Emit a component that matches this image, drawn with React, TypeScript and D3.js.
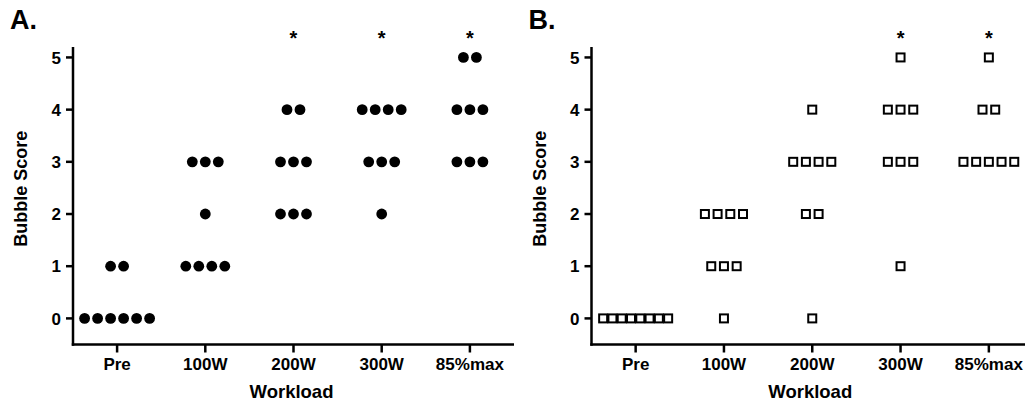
import React from 'react';
import * as d3 from 'd3';

// categories and per-subject bubble scores
const categories = ['Pre', '100W', '200W', '300W', '85%max'];

const scoresA = [
  [0, 0, 0, 0, 0, 0, 1, 1],
  [1, 1, 1, 1, 2, 3, 3, 3],
  [2, 2, 2, 3, 3, 3, 4, 4],
  [2, 3, 3, 3, 4, 4, 4, 4],
  [3, 3, 3, 4, 4, 4, 5, 5],
];

const scoresB = [
  [0, 0, 0, 0, 0, 0, 0, 0],
  [0, 1, 1, 1, 2, 2, 2, 2],
  [0, 2, 2, 3, 3, 3, 3, 4],
  [1, 3, 3, 3, 4, 4, 4, 5],
  [3, 3, 3, 3, 3, 4, 4, 5],
];

const sigA = [false, false, true, true, true];
const sigB = [false, false, false, true, true];

const yTicks = [0, 1, 2, 3, 4, 5];

const FONT = '"Liberation Sans", Arial, Helvetica, sans-serif';

type PanelProps = {
  label: string;
  left: number;
  right: number;
  scores: number[][];
  sig: boolean[];
  marker: 'circle' | 'square';
};

// spread points with equal value side by side, like a column scatter
const layoutRow = (vals: number[], spacing: number, maxSpan: number) => {
  const counts = d3.rollup(vals, v => v.length, d => d);
  const seen = new Map<number, number>();
  return vals.map(v => {
    const n = counts.get(v) || 1;
    const i = seen.get(v) || 0;
    seen.set(v, i + 1);
    const step = n > 1 ? Math.min(spacing, maxSpan / (n - 1)) : 0;
    return { v, dx: (i - (n - 1) / 2) * step };
  });
};

const Panel = ({ label, left, right, scores, sig, marker }: PanelProps) => {
  const y = d3.scaleLinear().domain([-0.5, 5.2]).range([344.5, 47]);
  const x = d3.scalePoint<string>().domain(categories).range([left, right]).padding(0.5);
  const axisRight = Math.min(right, 1030);
  const bottom = y(-0.5);

  return (
    <g>
      <text x={left - 63} y={29} fontSize={27} fontWeight="bold" fontFamily={FONT}>{label}</text>

      {/* y axis */}
      <line x1={left} x2={left} y1={y(5.2)} y2={bottom + 1.25} stroke="#000" strokeWidth={2.5} />
      {yTicks.map(t => (
        <g key={t}>
          <line x1={left - 7} x2={left} y1={y(t)} y2={y(t)} stroke="#000" strokeWidth={2.5} />
          <text x={left - 12} y={y(t)} dy="0.36em" textAnchor="end" fontSize={17} fontWeight="bold" fontFamily={FONT}>{t}</text>
        </g>
      ))}
      <text transform={`translate(${left - 46},${(y(5.2) + bottom) / 2 - 7}) rotate(-90)`} textAnchor="middle" fontSize={18} fontWeight="bold" fontFamily={FONT}>Bubble Score</text>

      {/* x axis */}
      <line x1={left - 1.25} x2={axisRight} y1={bottom} y2={bottom} stroke="#000" strokeWidth={2.5} />
      {categories.map(c => (
        <g key={c}>
          <line x1={x(c)} x2={x(c)} y1={bottom} y2={bottom + 8} stroke="#000" strokeWidth={2.5} />
          <text x={x(c)} y={370} textAnchor="middle" fontSize={17} fontWeight="bold" fontFamily={FONT}>{c}</text>
        </g>
      ))}
      <text x={(left + right) / 2 - 2} y={398} textAnchor="middle" fontSize={18.5} fontWeight="bold" fontFamily={FONT}>Workload</text>

      {/* points */}
      {scores.map((vals, ci) => {
        const cx = x(categories[ci]) as number;
        const pts = layoutRow(vals, marker === 'circle' ? 13 : 12.7, 65);
        return (
          <g key={ci}>
            {pts.map((p, i) =>
              marker === 'circle' ? (
                <circle key={i} cx={cx + p.dx} cy={y(p.v)} r={5.4} fill="#000" />
              ) : (
                <rect key={i} x={cx + p.dx - 4} y={y(p.v) - 4} width={8} height={8} fill="#fff" stroke="#000" strokeWidth={2} />
              )
            )}
            {sig[ci] && (
              <text x={cx} y={y(5.45) + 11} textAnchor="middle" fontSize={20} fontWeight="bold" fontFamily={FONT}>*</text>
            )}
          </g>
        );
      })}
    </g>
  );
};

export default function App() {
  return (
    <svg width={1025} height={404} style={{ position: 'absolute', left: 0, top: 0, background: '#fff' }}>
      <Panel label="A." left={73} right={514} scores={scoresA} sig={sigA} marker="circle" />
      <Panel label="B." left={591.5} right={1033} scores={scoresB} sig={sigB} marker="square" />
    </svg>
  );
}
